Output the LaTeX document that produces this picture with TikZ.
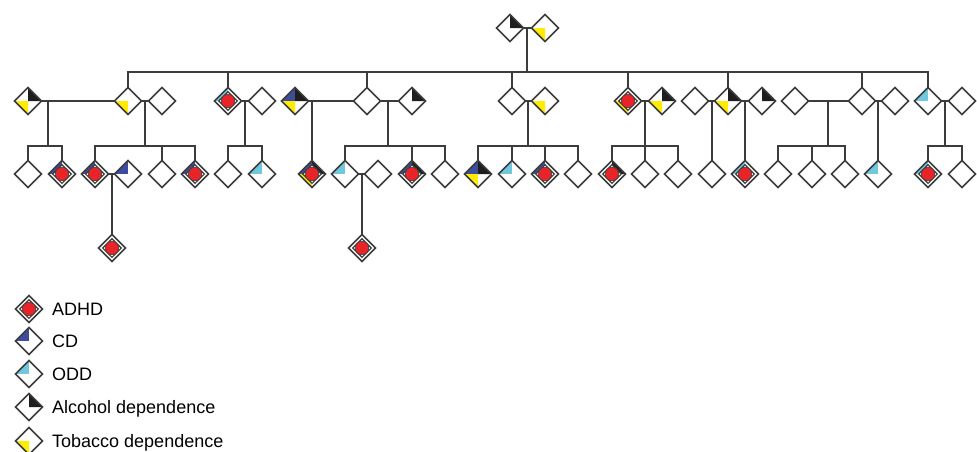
\documentclass[tikz,border=0pt]{standalone}
\usepackage{fontspec}
\setmainfont{Liberation Sans}
\usetikzlibrary{shapes.geometric}
\definecolor{lc}{RGB}{60,60,60}
\definecolor{cdb}{RGB}{62,76,160}
\definecolor{odc}{RGB}{112,200,222}
\definecolor{alk}{RGB}{30,30,30}
\definecolor{tby}{RGB}{255,236,0}
\definecolor{adr}{RGB}{232,36,40}
\tikzset{
  ind/.style={diamond, draw=lc, line width=1.7pt, fill=white, minimum width=27pt, minimum height=27pt, inner sep=0pt, outer sep=0pt},
  inb/.style={diamond, draw=lc, line width=1.1pt, fill=white, minimum width=19pt, minimum height=19pt, inner sep=0pt},
  adot/.style={circle, draw=lc, line width=0.6pt, fill=adr, minimum size=13.5pt, inner sep=0pt},
  ln/.style={draw=lc, line width=1.8pt},
  lab/.style={anchor=base west, font=\fontsize{18}{20}\selectfont, text=black, inner sep=0pt}
}
% name, position, UL, UR, LL, adhd
\newcommand\pp[6]{%
  \node[ind, path picture={
     \fill[#3] (path picture bounding box.west) -- (path picture bounding box.north) -- (path picture bounding box.center) -- cycle;
     \fill[#4] (path picture bounding box.north) -- (path picture bounding box.east) -- (path picture bounding box.center) -- cycle;
     \fill[#5] (path picture bounding box.west) -- (path picture bounding box.south) -- (path picture bounding box.center) -- cycle;}] (#1) at (#2) {};
  \ifnum#6=1 \node[inb] (#1-in) at (#1) {}; \node[adot] (#1-dot) at (#1) {};\fi
}
\begin{document}
\begin{tikzpicture}[x=1pt,y=-1pt]
\path[use as bounding box] (0,0) rectangle (977,451);
\coordinate (d0) at (527,28); \coordinate (s0) at (527,72);
\coordinate (d1) at (48,101);  \coordinate (s1) at (48,146);
\coordinate (d2) at (145,101); \coordinate (s2) at (145,146);
\coordinate (d3) at (245,101); \coordinate (s3) at (245,146);
\coordinate (d4) at (312,101);
\coordinate (d5) at (388,101); \coordinate (s5) at (388,146);
\coordinate (d6) at (528,101); \coordinate (s6) at (528,146);
\coordinate (d7) at (645,101); \coordinate (s7) at (645,146);
\coordinate (d8) at (712,101);
\coordinate (d9) at (745,101);
\coordinate (d10) at (828,101); \coordinate (s10) at (828,146);
\coordinate (d11) at (878,101);
\coordinate (d12) at (945,101); \coordinate (s12) at (945,146);
\coordinate (e1) at (112,174);
\coordinate (e2) at (362,174);

% ---------- generation 1 ----------
\pp{ga}{510,28}{white}{alk}{white}{0}
\pp{gb}{545,28}{white}{white}{tby}{0}
% ---------- generation 2 ----------
\pp{p28}{28,101}{white}{alk}{tby}{0}
\pp{p128}{128,101}{white}{white}{tby}{0}
\pp{p162}{162,101}{white}{white}{white}{0}
\pp{p228}{228,101}{odc}{white}{white}{1}
\pp{p262}{262,101}{white}{white}{white}{0}
\pp{p295}{295,101}{cdb}{alk}{tby}{0}
\pp{p367}{367,101}{white}{white}{white}{0}
\pp{p412}{412,101}{white}{alk}{white}{0}
\pp{p512}{512,101}{white}{white}{white}{0}
\pp{p545}{545,101}{white}{white}{tby}{0}
\pp{p628}{628,101}{white}{white}{tby}{1}
\pp{p662}{662,101}{white}{alk}{tby}{0}
\pp{p695}{695,101}{white}{white}{white}{0}
\pp{p728}{728,101}{white}{alk}{tby}{0}
\pp{p762}{762,101}{white}{alk}{white}{0}
\pp{p795}{795,101}{white}{white}{white}{0}
\pp{p862}{862,101}{white}{white}{white}{0}
\pp{p895}{895,101}{white}{white}{white}{0}
\pp{p928}{928,101}{odc}{white}{white}{0}
\pp{p962}{962,101}{white}{white}{white}{0}
% ---------- generation 3 ----------
\pp{q28}{28,174}{white}{white}{white}{0}
\pp{q62}{62,174}{cdb}{white}{white}{1}
\pp{q95}{95,174}{cdb}{white}{white}{1}
\pp{q128}{128,174}{cdb}{white}{white}{0}
\pp{q162}{162,174}{white}{white}{white}{0}
\pp{q195}{195,174}{cdb}{white}{white}{1}
\pp{q228}{228,174}{white}{white}{white}{0}
\pp{q262}{262,174}{odc}{white}{white}{0}
\pp{q312}{312,174}{cdb}{alk}{tby}{1}
\pp{q345}{345,174}{odc}{white}{white}{0}
\pp{q378}{378,174}{white}{white}{white}{0}
\pp{q412}{412,174}{cdb}{alk}{white}{1}
\pp{q445}{445,174}{white}{white}{white}{0}
\pp{q478}{478,174}{cdb}{alk}{tby}{0}
\pp{q512}{512,174}{odc}{white}{white}{0}
\pp{q545}{545,174}{cdb}{white}{white}{1}
\pp{q578}{578,174}{white}{white}{white}{0}
\pp{q612}{612,174}{white}{alk}{white}{1}
\pp{q645}{645,174}{white}{white}{white}{0}
\pp{q678}{678,174}{white}{white}{white}{0}
\pp{q712}{712,174}{white}{white}{white}{0}
\pp{q745}{745,174}{odc}{white}{white}{1}
\pp{q778}{778,174}{white}{white}{white}{0}
\pp{q812}{812,174}{white}{white}{white}{0}
\pp{q845}{845,174}{white}{white}{white}{0}
\pp{q878}{878,174}{odc}{white}{white}{0}
\pp{q928}{928,174}{odc}{white}{white}{1}
\pp{q962}{962,174}{white}{white}{white}{0}
% ---------- generation 4 ----------
\pp{r112}{112,248}{white}{white}{white}{1}
\pp{r362}{362,248}{white}{white}{white}{1}

% ---------- connectors ----------
\draw[ln] (ga.east) -- (gb.west);
\draw[ln] (d0) -- (s0);
\draw[ln] (p128.north) -- (p128.north |- s0) -- (p928.north |- s0) -- (p928.north);
\foreach \c in {p228,p367,p512,p628,p728,p862} \draw[ln] (\c.north) -- (\c.north |- s0);
% couples of generation 2
\draw[ln] (p28.east) -- (p128.west);
\draw[ln] (p128.east) -- (p162.west);
\draw[ln] (p228.east) -- (p262.west);
\draw[ln] (p295.east) -- (p367.west);
\draw[ln] (p367.east) -- (p412.west);
\draw[ln] (p512.east) -- (p545.west);
\draw[ln] (p628.east) -- (p662.west);
\draw[ln] (p695.east) -- (p728.west);
\draw[ln] (p728.east) -- (p762.west);
\draw[ln] (p795.east) -- (p862.west);
\draw[ln] (p862.east) -- (p895.west);
\draw[ln] (p928.east) -- (p962.west);
% sibships of generation 3
\draw[ln] (d1) -- (s1);
\draw[ln] (q28.north) -- (q28.north |- s1) -- (q62.north |- s1) -- (q62.north);
\draw[ln] (d2) -- (s2);
\draw[ln] (q95.north) -- (q95.north |- s2) -- (q195.north |- s2) -- (q195.north);
\draw[ln] (q162.north) -- (q162.north |- s2);
\draw[ln] (d3) -- (s3);
\draw[ln] (q228.north) -- (q228.north |- s3) -- (q262.north |- s3) -- (q262.north);
\draw[ln] (d4) -- (q312.north);
\draw[ln] (d5) -- (s5);
\draw[ln] (q345.north) -- (q345.north |- s5) -- (q445.north |- s5) -- (q445.north);
\draw[ln] (q412.north) -- (q412.north |- s5);
\draw[ln] (d6) -- (s6);
\draw[ln] (q478.north) -- (q478.north |- s6) -- (q578.north |- s6) -- (q578.north);
\foreach \c in {q512,q545} \draw[ln] (\c.north) -- (\c.north |- s6);
\draw[ln] (d7) -- (s7);
\draw[ln] (q612.north) -- (q612.north |- s7) -- (q678.north |- s7) -- (q678.north);
\draw[ln] (q645.north) -- (q645.north |- s7);
\draw[ln] (d8) -- (q712.north);
\draw[ln] (d9) -- (q745.north);
\draw[ln] (d10) -- (s10);
\draw[ln] (q778.north) -- (q778.north |- s10) -- (q845.north |- s10) -- (q845.north);
\draw[ln] (q812.north) -- (q812.north |- s10);
\draw[ln] (d11) -- (q878.north);
\draw[ln] (d12) -- (s12);
\draw[ln] (q928.north) -- (q928.north |- s12) -- (q962.north |- s12) -- (q962.north);
% couples of generation 3
\draw[ln] (q95.east) -- (q128.west);
\draw[ln] (e1) -- (r112.north);
\draw[ln] (q345.east) -- (q378.west);
\draw[ln] (e2) -- (r362.north);

% ---------- legend ----------
\pp{l1}{29,309}{white}{white}{white}{1}
\pp{l2}{29,341}{cdb}{white}{white}{0}
\pp{l3}{29,374}{odc}{white}{white}{0}
\pp{l4}{29,407}{white}{alk}{white}{0}
\pp{l5}{29,441}{white}{white}{tby}{0}
\node[lab] (t1) at (52,315.5) {ADHD};
\node[lab] (t2) at (52,347.5) {CD};
\node[lab] (t3) at (52,380.5) {ODD};
\node[lab] (t4) at (52,413.5) {Alcohol dependence};
\node[lab] (t5) at (52,447.5) {Tobacco dependence};
\end{tikzpicture}
\end{document}
